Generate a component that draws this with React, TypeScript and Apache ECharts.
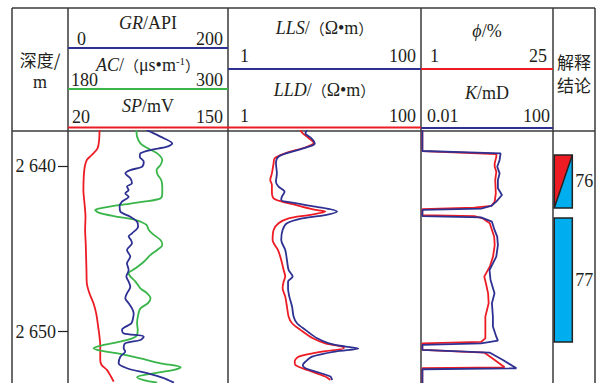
import React, { useEffect, useRef } from "react";
import * as echarts from "echarts";

// ---------- data ----------
const depthRange = [2637.88, 2653.11];
const depthTicks = [2640, 2650];
const depthTickLabels = ["2 640", "2 650"];

const grRange = [0, 200];
const acRange = [180, 300];
const spRange = [20, 150];
const llsRange = [1, 100];
const lldRange = [1, 100];
const porRange = [1, 25];
const permRange = [0.01, 100];

// [depth (m), value]
const spCurve = [
  [2637.82, 45.6], [2638.42, 45.3], [2638.93, 44.0], [2639.33, 39.3], [2639.63, 35.3], [2640.04, 33.6],
  [2640.64, 32.8], [2641.45, 32.5], [2642.25, 33.4], [2643.06, 34.2], [2643.86, 33.9], [2644.67, 34.4],
  [2645.47, 34.7], [2646.28, 35.0], [2647.08, 35.3], [2647.69, 37.4], [2648.29, 40.7], [2648.9, 42.9],
  [2649.7, 44.5], [2650.31, 45.6], [2650.91, 46.2], [2651.72, 46.2], [2652.02, 47.3], [2652.32, 51.6],
  [2652.72, 54.9], [2653.03, 57.1],
];
const acCurve = [
  [2637.82, 231.3], [2638.22, 231.8], [2638.63, 234.3], [2638.93, 239.9], [2639.23, 246.9], [2639.63, 250.7],
  [2639.93, 249.4], [2640.24, 246.4], [2640.54, 247.4], [2640.84, 249.9], [2641.24, 250.7], [2641.65, 250.7],
  [2641.95, 249.4], [2642.15, 236.9], [2642.35, 219.2], [2642.55, 204.2], [2642.65, 200.4], [2642.81, 202.9],
  [2643.02, 214.2], [2643.22, 229.3], [2643.36, 234.3], [2643.56, 238.9], [2643.86, 240.6], [2644.16, 244.4],
  [2644.47, 249.4], [2644.77, 250.7], [2645.07, 246.9], [2645.37, 241.9], [2645.78, 236.9], [2646.18, 230.6],
  [2646.48, 225.5], [2646.68, 226.8], [2646.98, 230.6], [2647.39, 234.3], [2647.69, 239.4], [2647.99, 241.9],
  [2648.29, 239.9], [2648.6, 234.3], [2649.0, 232.6], [2649.5, 231.8], [2649.9, 232.3], [2650.31, 230.6],
  [2650.61, 219.2], [2650.81, 206.7], [2651.01, 199.1], [2651.15, 204.2], [2651.35, 219.2], [2651.62, 234.3],
  [2651.92, 249.4], [2652.16, 264.5], [2652.32, 259.5], [2652.56, 241.9], [2652.76, 231.8], [2652.93, 236.9],
  [2653.09, 246.9],
];
const grCurve = [
  [2637.82, 98.0], [2638.02, 107.3], [2638.32, 119.8], [2638.63, 130.3], [2638.83, 124.0], [2639.03, 103.1],
  [2639.23, 90.5], [2639.43, 89.7], [2639.73, 94.7], [2640.04, 92.6], [2640.24, 77.9], [2640.44, 71.6],
  [2640.74, 77.9], [2641.04, 80.0], [2641.24, 73.7], [2641.45, 75.8], [2641.65, 71.6], [2641.85, 75.8],
  [2642.15, 67.5], [2642.45, 64.5], [2642.75, 65.4], [2643.06, 77.9], [2643.36, 86.3], [2643.66, 87.6],
  [2644.06, 80.0], [2644.26, 75.8], [2644.47, 78.8], [2644.67, 80.0], [2645.07, 73.7], [2645.47, 77.9],
  [2645.88, 73.7], [2646.28, 75.8], [2646.68, 72.9], [2646.98, 75.8], [2647.29, 77.9], [2647.69, 73.7],
  [2647.99, 71.6], [2648.29, 75.8], [2648.6, 80.0], [2648.9, 82.1], [2649.2, 81.3], [2649.5, 79.2],
  [2649.9, 67.5], [2650.11, 69.6], [2650.31, 94.7], [2650.51, 90.5], [2650.71, 71.6], [2651.01, 69.6],
  [2651.21, 71.6], [2651.52, 65.4], [2651.92, 63.3], [2652.22, 73.7], [2652.52, 98.9], [2652.82, 119.8],
  [2653.09, 132.4],
];
const llsCurve = [
  [2637.82, 6.6], [2638.02, 6.34], [2638.32, 7.32], [2638.63, 7.93], [2638.83, 6.87], [2639.13, 4.61],
  [2639.43, 3.34], [2639.83, 3.14], [2640.44, 3.21], [2640.94, 3.14], [2641.24, 3.34], [2641.55, 3.86],
  [2641.85, 3.62], [2642.05, 3.56], [2642.21, 4.61], [2642.45, 8.06], [2642.75, 13.5], [2642.96, 10.2],
  [2643.16, 5.85], [2643.46, 4.08], [2643.86, 3.68], [2644.47, 3.56], [2645.07, 3.92], [2645.67, 4.08],
  [2646.28, 4.25], [2646.68, 4.68], [2646.98, 4.19], [2647.39, 4.19], [2647.89, 4.32], [2648.49, 4.61],
  [2649.1, 4.79], [2649.5, 5.19], [2649.9, 6.34], [2650.41, 8.39], [2650.71, 11.1], [2650.91, 16.5],
  [2651.03, 22.4], [2651.21, 13.0], [2651.52, 7.44], [2651.82, 6.34], [2652.02, 5.95], [2652.22, 6.34],
  [2652.42, 8.06], [2652.72, 11.5], [2652.93, 12.0],
];
const lldCurve = [
  [2637.82, 5.62], [2638.02, 5.95], [2638.32, 6.87], [2638.59, 7.74], [2638.83, 6.6], [2639.23, 3.92],
  [2639.53, 3.04], [2639.83, 2.97], [2640.44, 2.85], [2640.84, 2.74], [2641.14, 2.85], [2641.55, 2.85],
  [2641.95, 2.97], [2642.15, 3.62], [2642.35, 4.99], [2642.65, 8.06], [2642.75, 10.2], [2642.96, 6.87],
  [2643.16, 4.25], [2643.46, 3.34], [2643.86, 2.97], [2644.47, 2.9], [2645.07, 3.29], [2645.67, 3.56],
  [2646.28, 3.77], [2646.68, 3.92], [2646.98, 3.77], [2647.39, 3.68], [2647.89, 3.92], [2648.49, 4.08],
  [2649.1, 4.25], [2649.5, 4.61], [2649.9, 5.62], [2650.41, 7.56], [2650.71, 10.2], [2650.91, 15.3],
  [2651.01, 15.9], [2651.21, 9.45], [2651.52, 5.4], [2651.82, 4.91], [2652.02, 4.99], [2652.32, 6.6],
  [2652.72, 10.2], [2652.93, 11.5],
];
const porCurve = [
  [2637.82, 1.24], [2639.1, 1.24], [2639.27, 14.7], [2639.43, 14.7], [2639.83, 14.4], [2640.04, 14.4],
  [2640.34, 14.7], [2640.84, 14.5], [2641.65, 14.6], [2642.15, 14.4], [2642.41, 13.8], [2642.51, 10.7],
  [2642.61, 1.24], [2642.96, 1.24], [2643.02, 10.7], [2643.16, 12.2], [2643.46, 13.5], [2643.86, 13.9],
  [2644.26, 14.3], [2644.77, 14.4], [2645.47, 14.1], [2646.08, 13.5], [2646.68, 12.5], [2647.08, 12.8],
  [2647.69, 13.2], [2648.29, 13.3], [2649.1, 12.7], [2649.9, 12.7], [2650.41, 12.7], [2650.63, 11.9],
  [2650.71, 1.24], [2651.11, 1.24], [2651.27, 12.5], [2651.72, 14.4], [2652.16, 16.2], [2652.22, 1.24],
  [2653.11, 1.24],
];
const permCurve = [
  [2637.82, 0.011], [2639.09, 0.011], [2639.23, 2.58], [2639.63, 2.41], [2640.04, 2.04], [2640.44, 2.41],
  [2640.84, 2.14], [2641.34, 2.14], [2641.75, 2.84], [2642.15, 1.91], [2642.41, 1.34], [2642.57, 0.66],
  [2642.65, 0.011], [2643.02, 0.011], [2643.1, 0.66], [2643.36, 1.41], [2643.86, 1.69], [2644.26, 2.04],
  [2644.77, 2.14], [2645.47, 1.91], [2646.28, 1.19], [2646.88, 1.28], [2647.69, 1.69], [2648.29, 1.41],
  [2649.1, 1.51], [2649.7, 1.51], [2650.31, 1.91], [2650.55, 2.14], [2650.71, 0.66], [2650.81, 0.011],
  [2651.11, 0.011], [2651.27, 1.19], [2651.72, 3.04], [2652.22, 7.78], [2652.28, 0.011], [2653.11, 0.011],
];

// interpretation layers
const layerNames = ["76", "77"];
const layerTops = [2639.33, 2643.14];
const layerBottoms = [2642.53, 2650.63];
const layerKinds = [1, 0]; // 1 = red/blue split, 0 = blue

// ---------- styling ----------
const RED = "#ED1C24";
const BLUE = "#2E3192";
const GREEN = "#39B54A";
const CYAN = "#00AEEF";
const INK = "#231F20";
const BORDER = "#3a3a3a";
const SERIF = "Liberation Serif";
const CJK = "Noto Sans CJK SC";

const COLS = [12, 68, 228, 421, 553, 595];
const TOP = 8;
const HEAD = 131;
const H = 383;

function txt(x: number, y: number, text: string, align: string, size = 18, rich?: any, family = SERIF) {
  return {
    type: "text",
    x,
    y,
    silent: true,
    style: {
      text,
      fill: INK,
      fontSize: size,
      fontFamily: family,
      align,
      verticalAlign: "middle",
      rich,
    },
  };
}
function hline(x1: number, x2: number, y: number, color: string, w = 1.5) {
  return { type: "line", silent: true, shape: { x1, y1: y, x2, y2: y }, style: { stroke: color, lineWidth: w } };
}
function vline(x: number, y1: number, y2: number) {
  return { type: "line", silent: true, shape: { x1: x, y1, x2: x, y2 }, style: { stroke: BORDER, lineWidth: 1.5 } };
}

const RICH = {
  i: { fontStyle: "italic", fontSize: 18, fontFamily: SERIF, fill: INK },
  n: { fontSize: 18, fontFamily: SERIF, fill: INK },
  c: { fontSize: 15, fontFamily: CJK, fill: INK },
  s: { fontSize: 11, fontFamily: SERIF, fill: INK, verticalAlign: "top", padding: [0, 0, 8, 0] },
};

export default function App() {
  const ref = useRef<HTMLDivElement>(null);
  useEffect(() => {
    document.body.style.margin = "0";
    const chart = echarts.init(ref.current!, undefined, { renderer: "svg" });
    const toXY = (arr: number[][]) => arr.map(([d, v]) => [v, d]);
    const yBase = {
      type: "value",
      inverse: true,
      min: depthRange[0],
      max: depthRange[1],
      axisLine: { show: false },
      axisTick: { show: false },
      axisLabel: { show: false },
      splitLine: { show: false },
    };
    const xBase = (grid: number, type: string, r: number[]) => ({
      type,
      gridIndex: grid,
      min: r[0],
      max: r[1],
      show: false,
      ...(type === "log" ? { logBase: 10 } : {}),
    });
    const lineS = (data: number[][], xi: number, yi: number, color: string, smooth: number | boolean) => ({
      type: "line",
      xAxisIndex: xi,
      yAxisIndex: yi,
      data: toXY(data),
      showSymbol: false,
      symbol: "none",
      smooth,
      lineStyle: { color, width: 1.8 },
      silent: true,
    });

    const headerTrack1 = (COLS[1] + COLS[2]) / 2;
    const headerTrack2 = (COLS[2] + COLS[3]) / 2;
    const headerTrack3 = (COLS[3] + COLS[4]) / 2;

    const graphics: any[] = [
      hline(COLS[0], COLS[5], TOP, BORDER),
      hline(COLS[0], COLS[5], HEAD, BORDER),
      ...COLS.map((x) => vline(x, TOP, H)),
      // coloured scale lines
      hline(COLS[1], COLS[2], 48, BLUE, 2),
      hline(COLS[1], COLS[2], 89, GREEN, 2),
      hline(COLS[1], COLS[3], 127.5, RED, 2),
      hline(COLS[2], COLS[3], 69, BLUE, 2),
      hline(COLS[3], COLS[4], 69, RED, 2),
      hline(COLS[3], COLS[4], 128, BLUE, 2),
      // depth column
      txt((COLS[0] + COLS[1]) / 2, 59, "深度/", "center", 17, undefined, CJK),
      txt((COLS[0] + COLS[1]) / 2, 82, "m", "center", 18),
      // track 1
      txt(headerTrack1, 23, "{i|GR}{n|/API}", "center", 18, RICH),
      txt(COLS[1] + 9, 39, String(grRange[0]), "left"),
      txt(COLS[2] - 5, 39, String(grRange[1]), "right"),
      txt(headerTrack1, 65, "{i|AC}{n|/}{c|（}{n|μs•m}{s|-1}{c|）}", "center", 18, RICH),
      txt(COLS[1] + 3, 80, String(acRange[0]), "left"),
      txt(COLS[2] - 5, 80, String(acRange[1]), "right"),
      txt(headerTrack1, 106, "{i|SP}{n|/mV}", "center", 18, RICH),
      txt(COLS[1] + 4, 117, String(spRange[0]), "left"),
      txt(COLS[2] - 5, 117, String(spRange[1]), "right"),
      // track 2
      txt(headerTrack2, 28, "{i|LLS}{n|/}{c|（}{n|Ω•m}{c|）}", "center", 18, RICH),
      txt(COLS[2] + 12, 56, String(llsRange[0]), "left"),
      txt(COLS[3] - 5, 56, String(llsRange[1]), "right"),
      txt(headerTrack2, 90, "{i|LLD}{n|/}{c|（}{n|Ω•m}{c|）}", "center", 18, RICH),
      txt(COLS[2] + 12, 116, String(lldRange[0]), "left"),
      txt(COLS[3] - 5, 116, String(lldRange[1]), "right"),
      // track 3
      txt(headerTrack3, 31, "{i|ϕ}{n|/%}", "center", 18, RICH),
      txt(COLS[3] + 9, 56, String(porRange[0]), "left"),
      txt(COLS[4] - 6, 56, String(porRange[1]), "right"),
      txt(headerTrack3, 93, "{i|K}{n|/mD}", "center", 18, RICH),
      txt(COLS[3] + 6, 116, String(permRange[0]), "left"),
      txt(COLS[4] - 3, 116, String(permRange[1]), "right"),
      // interpretation column
      txt((COLS[4] + COLS[5]) / 2, 61, "解释", "center", 17, undefined, CJK),
      txt((COLS[4] + COLS[5]) / 2, 84, "结论", "center", 17, undefined, CJK),
    ];

    const option: any = {
      animation: false,
      backgroundColor: "#ffffff",
      textStyle: { fontFamily: SERIF },
      grid: [
        { left: COLS[1], top: HEAD, width: COLS[2] - COLS[1], height: H - HEAD },
        { left: COLS[2], top: HEAD, width: COLS[3] - COLS[2], height: H - HEAD },
        { left: COLS[3], top: HEAD, width: COLS[4] - COLS[3], height: H - HEAD },
        { left: COLS[4], top: HEAD, width: COLS[5] - COLS[4], height: H - HEAD },
      ],
      xAxis: [
        xBase(0, "value", grRange),
        xBase(0, "value", acRange),
        xBase(0, "value", spRange),
        xBase(1, "log", llsRange),
        xBase(1, "log", lldRange),
        xBase(2, "value", porRange),
        xBase(2, "log", permRange),
        xBase(3, "value", [0, 1]),
      ],
      yAxis: [
        {
          ...yBase,
          gridIndex: 0,
          axisTick: {
            show: true,
            length: 10,
            customValues: depthTicks,
            lineStyle: { color: INK, width: 1.2 },
          },
          axisLabel: {
            show: true,
            customValues: depthTicks,
            margin: 12,
            fontSize: 18,
            fontFamily: SERIF,
            color: INK,
            formatter: (v: number) => {
              const i = depthTicks.indexOf(Math.round(v));
              return i >= 0 ? "{d|" + depthTickLabels[i] + "}" : "";
            },
            rich: {
              d: { fontSize: 18, fontFamily: SERIF, color: INK },
            },
          },
        },
        { ...yBase, gridIndex: 1 },
        { ...yBase, gridIndex: 2 },
        { ...yBase, gridIndex: 3 },
      ],
      series: [
        lineS(spCurve, 2, 0, RED, 0.3),
        lineS(acCurve, 1, 0, GREEN, 0.3),
        lineS(grCurve, 0, 0, BLUE, 0.3),
        lineS(lldCurve, 4, 1, RED, 0.3),
        lineS(llsCurve, 3, 1, BLUE, 0.3),
        lineS(porCurve, 5, 2, RED, false),
        lineS(permCurve, 6, 2, BLUE, false),
        {
          type: "custom",
          xAxisIndex: 7,
          yAxisIndex: 3,
          silent: true,
          clip: false,
          data: layerTops.map((t, i) => [0, t, layerBottoms[i], layerKinds[i]]),
          encode: { x: 0, y: [1, 2] },
          renderItem: (params: any, api: any) => {
            const top = api.value(1);
            const bottom = api.value(2);
            const kind = api.value(3);
            const p0 = api.coord([0.03, top]);
            const p1 = api.coord([0.46, bottom]);
            const x0 = p0[0], y0 = p0[1], x1 = p1[0], y1 = p1[1];
            const children: any[] = [];
            if (kind === 1) {
              children.push({
                type: "polygon",
                shape: { points: [[x0, y0], [x1, y0], [x0, y1]] },
                style: { fill: RED, stroke: "none" },
              });
              children.push({
                type: "polygon",
                shape: { points: [[x1, y0], [x1, y1], [x0, y1]] },
                style: { fill: CYAN, stroke: "none" },
              });
              children.push({
                type: "line",
                shape: { x1: x1, y1: y0, x2: x0, y2: y1 },
                style: { stroke: "#222", lineWidth: 1.5 },
              });
              children.push({
                type: "rect",
                shape: { x: x0, y: y0, width: x1 - x0, height: y1 - y0 },
                style: { fill: "none", stroke: "#222", lineWidth: 1.5 },
              });
            } else {
              children.push({
                type: "rect",
                shape: { x: x0, y: y0, width: x1 - x0, height: y1 - y0 },
                style: { fill: CYAN, stroke: "#222", lineWidth: 1.5 },
              });
            }
            children.push({
              type: "text",
              x: x1 + 3,
              y: (y0 + y1) / 2,
              style: {
                text: layerNames[params.dataIndex],
                fill: INK,
                fontSize: 18,
                fontFamily: SERIF,
                align: "left",
                verticalAlign: "middle",
              },
            });
            return { type: "group", children };
          },
        },
      ],
      graphic: { elements: graphics },
    };
    chart.setOption(option);
    return () => chart.dispose();
  }, []);
  return <div ref={ref} style={{ width: 598, height: 383 }} />;
}
